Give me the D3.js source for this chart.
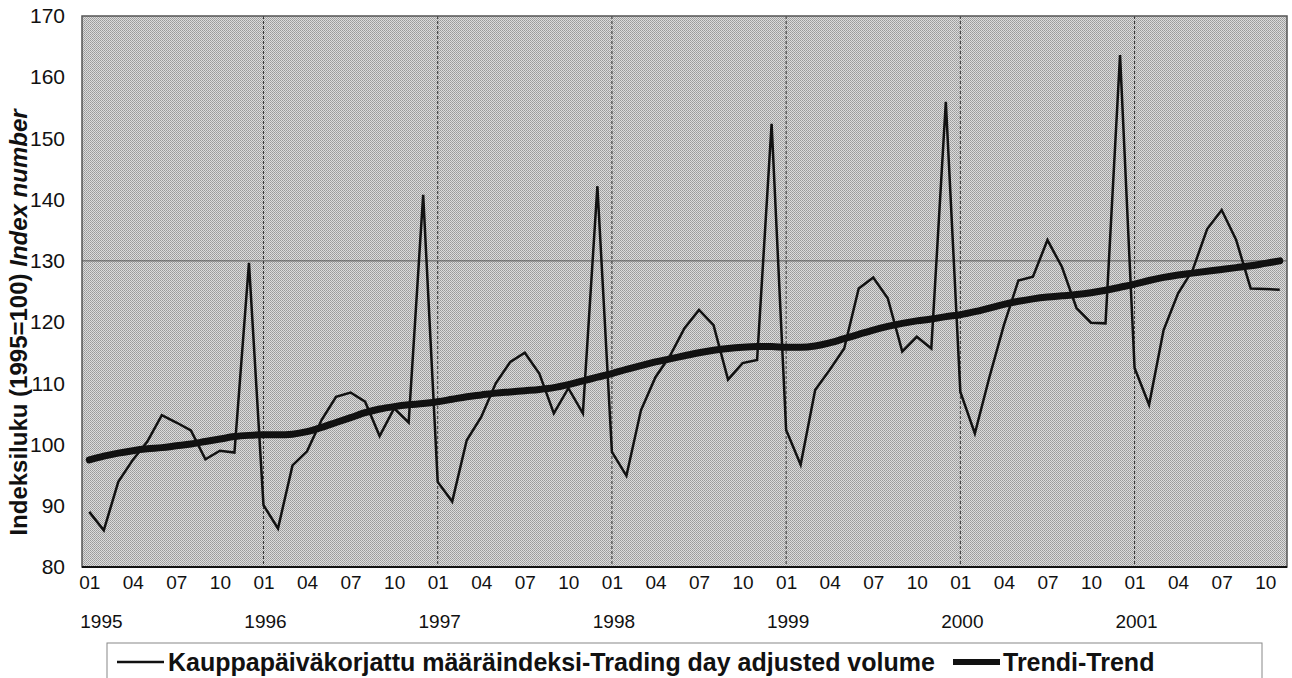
<!DOCTYPE html>
<html><head><meta charset="utf-8">
<script src="https://cdn.jsdelivr.net/npm/d3@7"></script>
<style>
body{margin:0;background:#fff;}
svg{display:block;font-family:"Liberation Sans",Arial,sans-serif;}
</style></head>
<body><svg id="c" width="1292" height="678"></svg>
<script>
const months = ["01","02","03","04","05","06","07","08","09","10","11","12"];
const years = [1995,1996,1997,1998,1999,2000,2001];
const volume = [
 89.0, 86.0, 93.9, 97.5,100.5,104.8,103.6,102.3, 97.6, 99.0, 98.7,129.7,
 90.1, 86.3, 96.6, 98.9,104.0,107.8,108.5,107.0,101.4,105.9,103.6,140.8,
 93.9, 90.7,100.7,104.5,110.0,113.5,115.0,111.6,105.1,109.2,105.1,142.2,
 98.8, 94.9,105.6,111.0,114.5,119.0,122.0,119.5,110.6,113.3,113.8,152.4,
102.4, 96.7,108.9,112.2,115.7,125.5,127.3,123.9,115.2,117.6,115.7,156.0,
108.6,101.8,111.0,119.5,126.8,127.4,133.4,129.0,122.3,119.9,119.8,163.6,
112.5,106.5,118.7,124.7,128.5,135.2,138.3,133.4,125.5,125.4,125.3
];
const trend = [
 97.5, 98.1, 98.6, 99.0, 99.3, 99.5, 99.8,100.1,100.5,100.9,101.3,101.5,
101.6,101.6,101.7,102.1,102.8,103.6,104.4,105.2,105.8,106.2,106.5,106.7,
107.0,107.4,107.8,108.1,108.4,108.6,108.8,109.0,109.3,109.8,110.4,111.0,
111.6,112.3,112.9,113.5,114.0,114.5,115.0,115.4,115.7,115.9,116.0,116.0,
115.9,115.9,116.1,116.6,117.3,118.0,118.7,119.3,119.8,120.2,120.5,120.9,
121.2,121.7,122.3,122.9,123.4,123.8,124.1,124.3,124.5,124.8,125.2,125.7,
126.2,126.8,127.3,127.7,128.0,128.3,128.6,128.9,129.2,129.6,130.0
];
const yTicks = [80,90,100,110,120,130,140,150,160,170];
const hGrid = [130];
const legendLabels = ["Kauppapäiväkorjattu määräindeksi-Trading day adjusted volume","Trendi-Trend"];
const yTitleA = "Indeksiluku (1995=100) ";
const yTitleB = "Index number";

const idx = d3.range(volume.length);
const L=82, R=1287, T=16, B=567;
const svg = d3.select("#c");

const defs = svg.append("defs");
const pat = defs.append("pattern").attr("id","dots").attr("patternUnits","userSpaceOnUse")
  .attr("width",2).attr("height",2);
pat.append("rect").attr("width",2).attr("height",2).attr("fill","#dcdcdc");
pat.append("rect").attr("width",1).attr("height",1).attr("fill","#9a9a9a");
pat.append("rect").attr("x",1).attr("y",1).attr("width",1).attr("height",1).attr("fill","#a6a6a6");

const x = d3.scaleBand().domain(idx).range([L,R]);
const xc = i => x(i) + x.bandwidth()/2;
const y = d3.scaleLinear().domain([80,170]).range([B,T]);

svg.append("rect").attr("x",L).attr("y",T).attr("width",R-L).attr("height",B-T)
  .attr("fill","url(#dots)");

svg.append("g").selectAll("line").data(hGrid).join("line")
  .attr("x1",L).attr("x2",R).attr("y1",d=>y(d)).attr("y2",d=>y(d))
  .attr("stroke","#555").attr("stroke-width",1);
svg.append("g").selectAll("line").data(idx.filter(i=>i%12===0 && i>0)).join("line")
  .attr("x1",d=>xc(d)).attr("x2",d=>xc(d)).attr("y1",T).attr("y2",B)
  .attr("stroke","#333").attr("stroke-width",1).attr("stroke-dasharray","3,2");

svg.append("rect").attr("x",L).attr("y",T).attr("width",R-L).attr("height",B-T)
  .attr("fill","none").attr("stroke","#555").attr("stroke-width",1.5);

const line = d3.line().x((d,i)=>xc(i)).y(d=>y(d));
svg.append("path").datum(volume).attr("d",line).attr("fill","none")
  .attr("stroke","#111").attr("stroke-width",2.5).attr("stroke-linejoin","miter");
svg.append("path").datum(trend).attr("d",d3.line().x((d,i)=>xc(i)).y(d=>y(d)).curve(d3.curveMonotoneX))
  .attr("fill","none").attr("stroke","#111").attr("stroke-width",7).attr("stroke-linecap","round");

svg.append("line").attr("x1",L).attr("x2",R).attr("y1",B).attr("y2",B).attr("stroke","#111").attr("stroke-width",2);

const yAxis = d3.axisLeft(y).tickValues(yTicks).tickSize(0).tickPadding(17).tickFormat(d3.format("d"));
const gy = svg.append("g").attr("transform",`translate(${L},0)`).call(yAxis);
gy.select(".domain").remove();
gy.selectAll("text").attr("font-size",21).attr("fill","#111").attr("font-family","Liberation Sans, Arial, sans-serif");

const xp = d3.scalePoint().domain(idx).range([xc(0), xc(idx.length-1)]);
const xAxis = d3.axisBottom(xp).tickValues(idx.filter(i=>i%3===0)).tickSize(0).tickPadding(9)
  .tickFormat(i=>months[i%12]);
const gx = svg.append("g").attr("transform",`translate(0,${B})`).call(xAxis);
gx.select(".domain").remove();
gx.selectAll("text").attr("font-size",19).attr("fill","#111").attr("font-family","Liberation Sans, Arial, sans-serif");
svg.append("g").selectAll("text").data(years).join("text")
  .attr("x",(d,k)=> k===0 ? xc(0)-9 : xc(k*12)+2)
  .attr("text-anchor",(d,k)=> k===0 ? "start" : "middle")
  .attr("y",628).attr("font-size",19).attr("fill","#111").text(d=>d);

const yt = svg.append("text").attr("transform",`translate(27,${(T+B)/2+31}) rotate(-90)`)
  .attr("text-anchor","middle").attr("font-size",24).attr("font-weight","bold").attr("fill","#111");
yt.append("tspan").text(yTitleA);
yt.append("tspan").attr("font-style","italic").text(yTitleB);

const lg = svg.append("g");
lg.append("rect").attr("x",107).attr("y",643).attr("width",1155).attr("height",40)
  .attr("fill","#fff").attr("stroke","#888").attr("stroke-width",1);
lg.append("line").attr("x1",117).attr("x2",164).attr("y1",662).attr("y2",662).attr("stroke","#111").attr("stroke-width",2.3);
lg.append("text").attr("x",168).attr("y",671).attr("font-size",25).attr("font-weight","bold").attr("fill","#111").text(legendLabels[0]);
lg.append("line").attr("x1",953).attr("x2",1000).attr("y1",662).attr("y2",662).attr("stroke","#111").attr("stroke-width",6);
lg.append("text").attr("x",1003).attr("y",671).attr("font-size",25).attr("font-weight","bold").attr("fill","#111").text(legendLabels[1]);
</script></body></html>
